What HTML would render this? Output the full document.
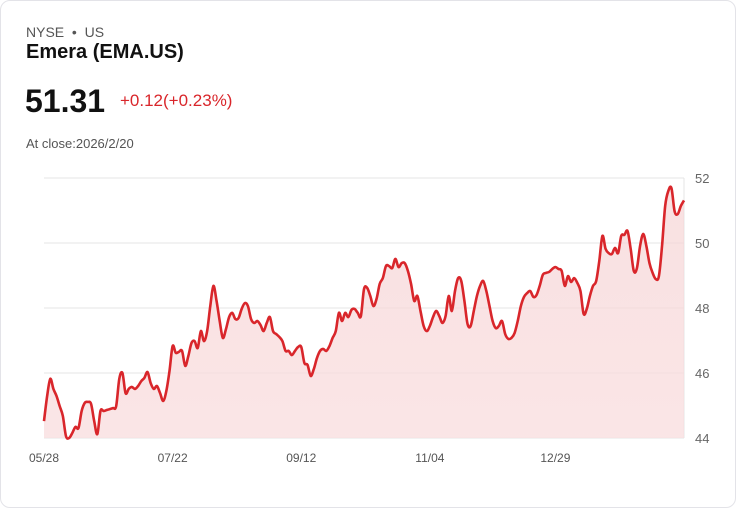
<!DOCTYPE html>
<html><head><meta charset="utf-8"><style>
body{margin:0;background:#fff;font-family:"Liberation Sans",sans-serif;}
.card{position:absolute;left:0;top:0;width:734px;height:506px;border:1px solid #e3e3e8;border-radius:10px;background:#fff;}
.t{position:absolute;white-space:nowrap;}
</style></head><body>
<div class="card">
<div class="t" style="left:25px;top:23px;font-size:14px;color:#555;">NYSE&nbsp; • &nbsp;US</div>
<div class="t" style="left:25px;top:40px;font-size:20px;font-weight:bold;color:#111;">Emera (EMA.US)</div>
<div class="t" style="left:24px;top:82px;font-size:32px;font-weight:bold;color:#111;">51.31</div>
<div class="t" style="left:119px;top:90px;font-size:17px;color:#d9262b;">+0.12(+0.23%)</div>
<div class="t" style="left:25px;top:135px;font-size:13px;color:#555;">At close:2026/2/20</div>
<svg id="chart" width="736" height="508" style="position:absolute;left:0;top:0">
<defs><linearGradient id="g" x1="0" y1="0" x2="0" y2="1"><stop offset="0" stop-color="#f6d4d5" stop-opacity="0.7"/><stop offset="1" stop-color="#f9dfe0" stop-opacity="0.8"/></linearGradient></defs>
</svg>
</div>
<script>
const prices=[44.52,45.29,45.82,45.51,45.29,44.98,44.68,44.06,44.00,44.15,44.34,44.31,44.83,45.08,45.11,45.05,44.52,44.12,44.83,44.83,44.86,44.89,44.92,44.98,45.82,46.00,45.38,45.51,45.57,45.51,45.60,45.75,45.85,46.03,45.69,45.51,45.60,45.38,45.14,45.45,46.06,46.83,46.62,46.65,46.68,46.22,46.52,46.92,46.98,46.77,47.29,46.98,47.29,48.06,48.68,48.22,47.60,47.08,47.35,47.72,47.85,47.66,47.69,47.97,48.15,48.06,47.66,47.54,47.60,47.48,47.29,47.54,47.72,47.29,47.20,47.11,46.98,46.68,46.68,46.55,46.68,46.80,46.80,46.31,46.25,45.91,46.12,46.46,46.68,46.74,46.68,46.83,47.08,47.29,47.85,47.60,47.85,47.72,47.94,47.97,47.85,47.75,48.58,48.62,48.37,48.06,48.28,48.74,48.92,49.29,49.29,49.23,49.51,49.26,49.38,49.38,49.14,48.74,48.22,48.37,47.91,47.45,47.29,47.45,47.72,47.91,47.75,47.54,47.75,48.37,47.91,48.52,48.92,48.83,48.22,47.51,47.45,47.91,48.37,48.68,48.83,48.52,48.06,47.60,47.38,47.45,47.60,47.20,47.05,47.08,47.23,47.60,48.06,48.34,48.46,48.52,48.34,48.40,48.68,49.02,49.08,49.11,49.20,49.26,49.20,49.14,48.68,48.98,48.80,48.92,48.77,48.52,47.82,47.97,48.37,48.68,48.83,49.45,50.22,49.82,49.69,49.66,49.85,49.69,50.22,50.25,50.37,49.82,49.14,49.23,49.91,50.28,49.91,49.38,49.08,48.89,48.98,49.91,51.14,51.60,51.69,50.98,50.89,51.14,51.31];
const yTicks=[44,46,48,50,52];
const xTickLabels=["05/28","07/22","09/12","11/04","12/29"];
const xTickIndex=[0,41,82,123,163];

const NS="http://www.w3.org/2000/svg";
const svg=document.getElementById('chart');
const X0=43,X1=683,Y0=437,Y1=177,VMIN=44,VMAX=52;
const x=i=>X0+(X1-X0)*i/(prices.length-1);
const y=v=>Y0-(v-VMIN)/(VMAX-VMIN)*(Y0-Y1);
function mk(t,a){const e=document.createElementNS(NS,t);for(const k in a)e.setAttribute(k,a[k]);svg.appendChild(e);return e;}
yTicks.forEach(v=>{
 const l=mk('line',{x1:43,x2:683,y1:y(v),y2:y(v),stroke:'#e4e4e4','stroke-width':1});
 
 
 const t=mk('text',{x:694,y:y(v)+5,'font-size':13,fill:'#666','font-family':'Liberation Sans, sans-serif'});
 t.textContent=v;
 
 
});
const ax=mk('line',{x1:683,x2:683,y1:177,y2:437,stroke:'#e4e4e4'});


xTickLabels.forEach((s,k)=>{
 const t=mk('text',{x:x(xTickIndex[k]),y:461,'font-size':12,fill:'#555','text-anchor':'middle','font-family':'Liberation Sans, sans-serif'});
 t.textContent=s;
 
 
});
const P=prices.map((v,i)=>[x(i),y(v)]);
let d=`M${P[0][0]},${P[0][1]}`;
for(let i=0;i<P.length-1;i++){
 const p0=P[Math.max(i-1,0)],p1=P[i],p2=P[i+1],p3=P[Math.min(i+2,P.length-1)];
 d+=` C${p1[0]+(p2[0]-p0[0])/6},${p1[1]+(p2[1]-p0[1])/6} ${p2[0]-(p3[0]-p1[0])/6},${p2[1]-(p3[1]-p1[1])/6} ${p2[0]},${p2[1]}`;
}
const area=mk('path',{d:d+` L${X1},${Y0} L${X0},${Y0} Z`,fill:'url(#g)'});


const line=mk('path',{d:d,fill:'none',stroke:'#d9262b','stroke-width':2.6,'stroke-linejoin':'round'});


</script>
</body></html>
